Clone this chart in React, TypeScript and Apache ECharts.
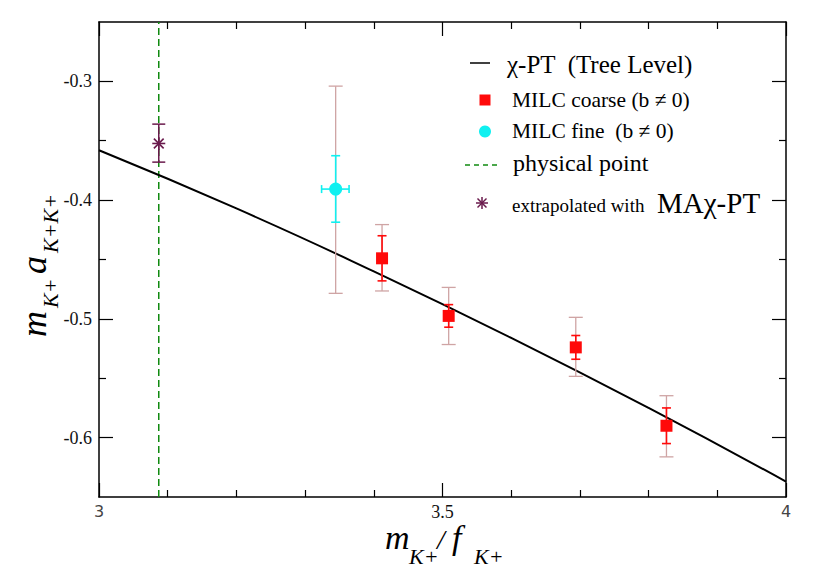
import React, { useEffect, useRef } from "react";
import * as echarts from "echarts";

// ---- data ----
const treeX = [3.0, 3.2, 3.4, 3.6, 3.8, 4.0];
const treeY = [-0.358, -0.407, -0.46, -0.516, -0.575, -0.637];

const coarseX = [3.412, 3.509, 3.694, 3.826];
const coarseY = [-0.449, -0.4975, -0.524, -0.59];
const coarseStatLo = [-0.468, -0.507, -0.534, -0.605];
const coarseStatHi = [-0.43, -0.488, -0.514, -0.575];
const coarseSysLo = [-0.4765, -0.5216, -0.5484, -0.6162];
const coarseSysHi = [-0.4206, -0.4735, -0.4987, -0.5647];

const fineX = [3.3445];
const fineY = [-0.3907];
const fineStatLo = [-0.4186];
const fineStatHi = [-0.3626];
const fineSysLo = [-0.4785];
const fineSysHi = [-0.304];
const fineXLo = [3.324];
const fineXHi = [3.364];

const extrapX = [3.087];
const extrapY = [-0.3523];
const extrapLo = [-0.368];
const extrapHi = [-0.336];

const physX = 3.087;
const yMin = -0.65;
const yMax = -0.25;
const yMajorTicks = [-0.6, -0.5, -0.4, -0.3];
const yMinorTicks = [-0.55, -0.45, -0.35];

const SERIF = "Liberation Serif, serif";
const RED = "#ff0a0a";
const ROSY = "#cfa4a4";
const CYAN = "#10f0f0";
const GREEN = "#108a10";
const PURPLE = "#6a1a4c";

function vErrSeries(name: string, xs: number[], lo: number[], hi: number[], color: string, cap: number, width: number, z: number) {
  return {
    type: "custom",
    name,
    z,
    data: xs.map((x, i) => [x, lo[i], hi[i]]),
    encode: { x: 0, y: [1, 2] },
    renderItem: (params: any, api: any) => {
      const x = api.value(0);
      const a = api.coord([x, api.value(1)]);
      const b = api.coord([x, api.value(2)]);
      const st = { stroke: color, lineWidth: width };
      return {
        type: "group",
        children: [
          { type: "line", shape: { x1: a[0], y1: a[1], x2: b[0], y2: b[1] }, style: st },
          { type: "line", shape: { x1: a[0] - cap, y1: a[1], x2: a[0] + cap, y2: a[1] }, style: st },
          { type: "line", shape: { x1: b[0] - cap, y1: b[1], x2: b[0] + cap, y2: b[1] }, style: st },
        ],
      };
    },
  };
}

function asterisk(cx: number, cy: number, r: number, color: string, w: number) {
  const d = r * 0.75;
  const st = { stroke: color, lineWidth: w };
  return [
    { type: "line", shape: { x1: cx - r, y1: cy, x2: cx + r, y2: cy }, style: st },
    { type: "line", shape: { x1: cx, y1: cy - r, x2: cx, y2: cy + r }, style: st },
    { type: "line", shape: { x1: cx - d, y1: cy - d, x2: cx + d, y2: cy + d }, style: st },
    { type: "line", shape: { x1: cx - d, y1: cy + d, x2: cx + d, y2: cy - d }, style: st },
  ];
}

export default function App() {
  const ref = useRef<HTMLDivElement>(null);
  useEffect(() => {
    document.body.style.margin = "0";
    const chart = echarts.init(ref.current!, null, { renderer: "svg" });
    const axisLine = { show: true, onZero: false, lineStyle: { color: "#000", width: 1.5 } };
    const tickStyle = { color: "#000", width: 1.2 };
    const xAxisBase = {
      type: "value",
      min: 3,
      max: 4,
      interval: 0.5,
      axisLine,
      axisTick: { show: true, inside: true, length: 14, lineStyle: tickStyle },
      minorTick: { show: true, splitNumber: 5, length: 7, lineStyle: tickStyle },
      splitLine: { show: false },
      minorSplitLine: { show: false },
    };
    const yMajor = (pos: string, labels: boolean) => ({
      type: "value",
      position: pos,
      min: yMin,
      max: yMax,
      interval: 0.05,
      axisLine: axisLine,
      axisTick: { show: true, inside: true, length: 14, customValues: yMajorTicks, lineStyle: tickStyle },
      axisLabel: labels
        ? {
            show: true,
            customValues: yMajorTicks,
            formatter: (v: number) => v.toFixed(1),
            fontFamily: SERIF,
            fontSize: 18,
            color: "#111",
            margin: 7,
          }
        : { show: false },
      splitLine: { show: false },
    });
    const yMinor = (pos: string) => ({
      type: "value",
      position: pos,
      min: yMin,
      max: yMax,
      interval: 0.05,
      axisLine: { show: false },
      axisTick: { show: true, inside: true, length: 7, customValues: yMinorTicks, lineStyle: tickStyle },
      axisLabel: { show: false },
      splitLine: { show: false },
    });

    const sub = (text: string, x: number, y: number, size: number, italic = true) => ({
      type: "text",
      x,
      y,
      style: {
        text,
        fontFamily: SERIF,
        fontSize: size,
        fontStyle: italic ? "italic" : "normal",
        fill: "#000",
        verticalAlign: "middle",
        align: "left",
      },
    });

    const option: any = {
      animation: false,
      grid: { left: 99, right: 43, top: 22, bottom: 75, containLabel: false },
      xAxis: [
        {
          ...xAxisBase,
          position: "bottom",
          axisLabel: {
            show: true,
            margin: 6,
            formatter: (v: number) => (v === 3.5 ? "{t|3.5}" : `{s|${v}}`),
            rich: {
              t: { fontFamily: SERIF, fontSize: 18, color: "#111" },
              s: { fontFamily: "DejaVu Sans, sans-serif", fontSize: 16, color: "#444" },
            },
          },
        },
        { ...xAxisBase, position: "top", axisLabel: { show: false } },
      ],
      yAxis: [yMajor("left", true), yMinor("left"), yMajor("right", false), yMinor("right")],
      series: [
        {
          type: "line",
          name: "physical point",
          data: [
            [physX, yMin],
            [physX, yMax],
          ],
          symbol: "none",
          lineStyle: { color: GREEN, width: 1.5, type: [7, 4] },
          z: 1,
        },
        {
          type: "line",
          name: "χ-PT (Tree Level)",
          data: treeX.map((x, i) => [x, treeY[i]]),
          symbol: "none",
          smooth: true,
          lineStyle: { color: "#000", width: 2 },
          z: 2,
        },
        vErrSeries("coarse sys", coarseX, coarseSysLo, coarseSysHi, ROSY, 7, 1.3, 3),
        vErrSeries("fine sys", fineX, fineSysLo, fineSysHi, ROSY, 7, 1.3, 3),
        vErrSeries("coarse stat", coarseX, coarseStatLo, coarseStatHi, RED, 4.5, 1.6, 4),
        vErrSeries("fine stat", fineX, fineStatLo, fineStatHi, CYAN, 4.5, 1.6, 4),
        {
          type: "custom",
          name: "fine xerr",
          z: 4,
          data: fineY.map((y, i) => [fineXLo[i], fineXHi[i], y]),
          encode: { x: [0, 1], y: 2 },
          renderItem: (params: any, api: any) => {
            const a = api.coord([api.value(0), api.value(2)]);
            const b = api.coord([api.value(1), api.value(2)]);
            const st = { stroke: CYAN, lineWidth: 1.6 };
            const c = 4;
            return {
              type: "group",
              children: [
                { type: "line", shape: { x1: a[0], y1: a[1], x2: b[0], y2: b[1] }, style: st },
                { type: "line", shape: { x1: a[0], y1: a[1] - c, x2: a[0], y2: a[1] + c }, style: st },
                { type: "line", shape: { x1: b[0], y1: b[1] - c, x2: b[0], y2: b[1] + c }, style: st },
              ],
            };
          },
        },
        {
          type: "scatter",
          name: "MILC coarse",
          data: coarseX.map((x, i) => [x, coarseY[i]]),
          symbol: "rect",
          symbolSize: 12,
          itemStyle: { color: RED, opacity: 1 },
          z: 5,
        },
        {
          type: "scatter",
          name: "MILC fine",
          data: fineX.map((x, i) => [x, fineY[i]]),
          symbol: "circle",
          symbolSize: 13,
          itemStyle: { color: CYAN, opacity: 1 },
          z: 5,
        },
        vErrSeries("extrap err", extrapX, extrapLo, extrapHi, PURPLE, 6.5, 1.5, 5),
        {
          type: "custom",
          name: "extrapolated",
          z: 6,
          data: extrapX.map((x, i) => [x, extrapY[i]]),
          encode: { x: 0, y: 1 },
          renderItem: (params: any, api: any) => {
            const p = api.coord([api.value(0), api.value(1)]);
            return { type: "group", children: asterisk(p[0], p[1], 6.5, PURPLE, 1.6) };
          },
        },
      ],
      graphic: [
        // legend
        { type: "line", shape: { x1: 470, y1: 63, x2: 490, y2: 63 }, style: { stroke: "#000", lineWidth: 1.5 } },
        sub("χ-PT  (Tree Level)", 507, 64, 25, false),
        { type: "rect", shape: { x: 479.5, y: 94.5, width: 11, height: 11 }, style: { fill: RED } },
        sub("MILC coarse (b ≠ 0)", 512, 100, 21.5, false),
        { type: "circle", shape: { cx: 485, cy: 131.5, r: 6 }, style: { fill: CYAN } },
        sub("MILC fine  (b ≠ 0)", 512, 131, 21.5, false),
        {
          type: "line",
          shape: { x1: 465, y1: 165, x2: 498, y2: 165 },
          style: { stroke: GREEN, lineWidth: 1.5, lineDash: [5, 4] },
        },
        sub("physical point", 513, 163, 24, false),
        { type: "group", children: asterisk(482, 203, 6, PURPLE, 1.5) },
        sub("extrapolated with", 512, 205, 19, false),
        sub("MAχ-PT", 657, 203, 29, false),
        // x axis name
        sub("m", 385, 537, 34),
        sub("K+", 409, 556, 22),
        sub("/", 437, 539, 28),
        sub("f", 452, 537, 34),
        sub("K+", 474, 556, 22),
        // y axis name (rotated)
        {
          type: "group",
          x: 40,
          y: 337,
          rotation: Math.PI / 2,
          children: [
            sub("m", 0, -6, 36),
            sub("K+", 29, 10, 22),
            sub("a", 63, -6, 36),
            sub("K+K+", 84, 10, 22),
          ],
        },
      ],
    };
    chart.setOption(option);
    return () => chart.dispose();
  }, []);
  return <div ref={ref} style={{ width: 829, height: 572, background: "#fff" }} />;
}
